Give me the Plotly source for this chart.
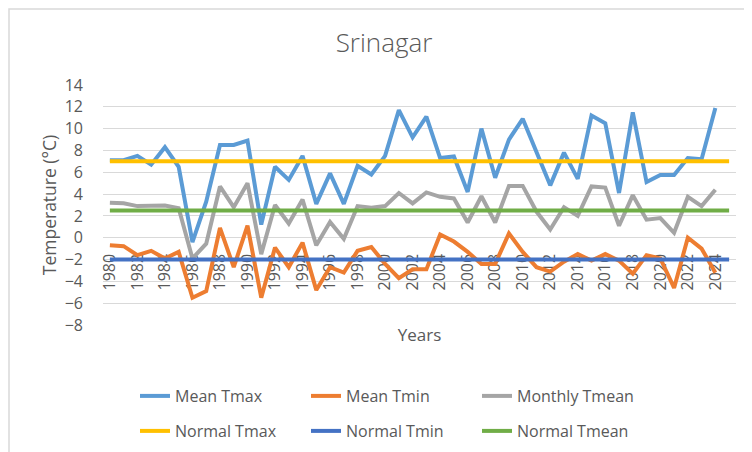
import plotly.graph_objects as go

years = list(range(1980, 2025))
years_ext = list(range(1980, 2026))

mean_tmax = [7.1, 7.1, 7.5, 6.7, 8.3, 6.5, -0.4, 3.3, 8.5, 8.5, 8.9,
             1.2, 6.5, 5.3, 7.5, 3.1, 5.9, 3.1, 6.6, 5.8, 7.5,
             11.7, 9.2, 11.1, 7.3, 7.45, 4.2, 10.0, 5.5, 9.0, 10.9,
             7.9, 4.8, 7.8, 5.4, 11.2, 10.5, 4.1, 11.5, 5.1, 5.75,
             5.75, 7.3, 7.2, 11.9]
mean_tmin = [-0.7, -0.77, -1.6, -1.2, -1.9, -1.3, -5.5, -4.9, 0.9, -2.7, 1.1,
             -5.5, -0.9, -2.7, -0.45, -4.8, -2.7, -3.2, -1.2, -0.85, -2.4,
             -3.7, -2.9, -2.9, 0.3, -0.35, -1.3, -2.4, -2.4, 0.4, -1.3,
             -2.7, -3.1, -2.2, -1.5, -2.1, -1.5, -2.1, -3.3, -1.6, -1.9,
             -4.6, 0.0, -1.0, -3.2]
monthly_tmean = [3.2, 3.15, 2.9, 2.9, 2.95, 2.7, -1.9, -0.55, 4.7, 2.8, 5.0,
                 -1.5, 3.0, 1.3, 3.5, -0.7, 1.45, -0.1, 2.9, 2.75, 2.9,
                 4.1, 3.15, 4.15, 3.75, 3.6, 1.4, 3.8, 1.4, 4.75, 4.75,
                 2.4, 0.75, 2.8, 2.0, 4.7, 4.6, 1.1, 3.9, 1.65, 1.8,
                 0.45, 3.75, 2.9, 4.4]
NORMAL_TMAX = 7.0
NORMAL_TMIN = -2.0
NORMAL_TMEAN = 2.5
normal_tmax = [NORMAL_TMAX] * len(years_ext)
normal_tmin = [NORMAL_TMIN] * len(years_ext)
normal_tmean = [NORMAL_TMEAN] * len(years_ext)

y_ticks = list(range(-8, 15, 2))

TXT = "#595959"
FONT = "Open Sans"
LW = 4

fig = go.Figure()
series = [
    ("Mean Tmax", years, mean_tmax, "#5B9BD5", "legend"),
    ("Mean Tmin", years, mean_tmin, "#ED7D31", "legend"),
    ("Monthly Tmean", years, monthly_tmean, "#A5A5A5", "legend"),
    ("Normal Tmax", years_ext, normal_tmax, "#FFC000", "legend2"),
    ("Normal Tmin", years_ext, normal_tmin, "#4472C4", "legend2"),
    ("Normal Tmean", years_ext, normal_tmean, "#70AD47", "legend2"),
]
for name, xs, ys, col, lg in series:
    fig.add_trace(go.Scatter(x=xs, y=ys, name=name, mode="lines",
                             line=dict(color=col, width=LW),
                             legend=lg, hoverinfo="skip"))

W, H = 752, 452
ML, MR, MT, MB = 95, 24, 77, 135
pw = W - ML - MR
ph = H - MT - MB

legend_common = dict(orientation="h", xref="container", yref="container",
                     xanchor="left", yanchor="middle",
                     font=dict(family=FONT, size=16, color=TXT),
                     entrywidth=126, entrywidthmode="pixels",
                     bgcolor="rgba(0,0,0,0)", traceorder="normal")

fig.update_layout(
    width=W, height=H,
    margin=dict(l=ML, r=MR, t=MT, b=MB, autoexpand=False),
    paper_bgcolor="white", plot_bgcolor="white",
    title=dict(text="Srinagar", x=0.5, xref="container", xanchor="center",
               y=1 - 35 / H, yref="container", yanchor="middle",
               font=dict(family=FONT, size=26, color=TXT, weight=300)),
    showlegend=True,
    legend=dict(x=127 / W, y=1 - 388 / H, **legend_common),
    legend2=dict(x=127 / W, y=1 - 423 / H, **legend_common),
    xaxis=dict(range=[1979.5, 2025.5], tickmode="linear", tick0=1980, dtick=2,
               tickangle=-90, showgrid=False, zeroline=False, showline=False,
               ticks="", anchor="free", position=8 / 22, layer="below traces",
               ticklabelstandoff=12,
               tickfont=dict(family=FONT, size=16, color=TXT),
               title=dict(text="Years", standoff=39,
                          font=dict(family=FONT, size=17, color=TXT))),
    yaxis=dict(range=[-8, 14], tickvals=y_ticks, showgrid=True,
               gridcolor="#D9D9D9", gridwidth=1.3, zeroline=False,
               showline=False, ticks="", ticklabelstandoff=19,
               tickfont=dict(family=FONT, size=16, color=TXT),
               title=dict(text="Temperature (°C)", standoff=3,
                          font=dict(family=FONT, size=17.5, color=TXT))),
    shapes=[dict(type="rect", xref="paper", yref="paper",
                 x0=-(ML - 1) / pw, x1=1 + (MR - 1) / pw,
                 y0=-(MB - 1) / ph, y1=1 + (MT - 1) / ph,
                 line=dict(color="#D9D9D9", width=1.5), layer="below")],
)

fig.write_html("out.html")
